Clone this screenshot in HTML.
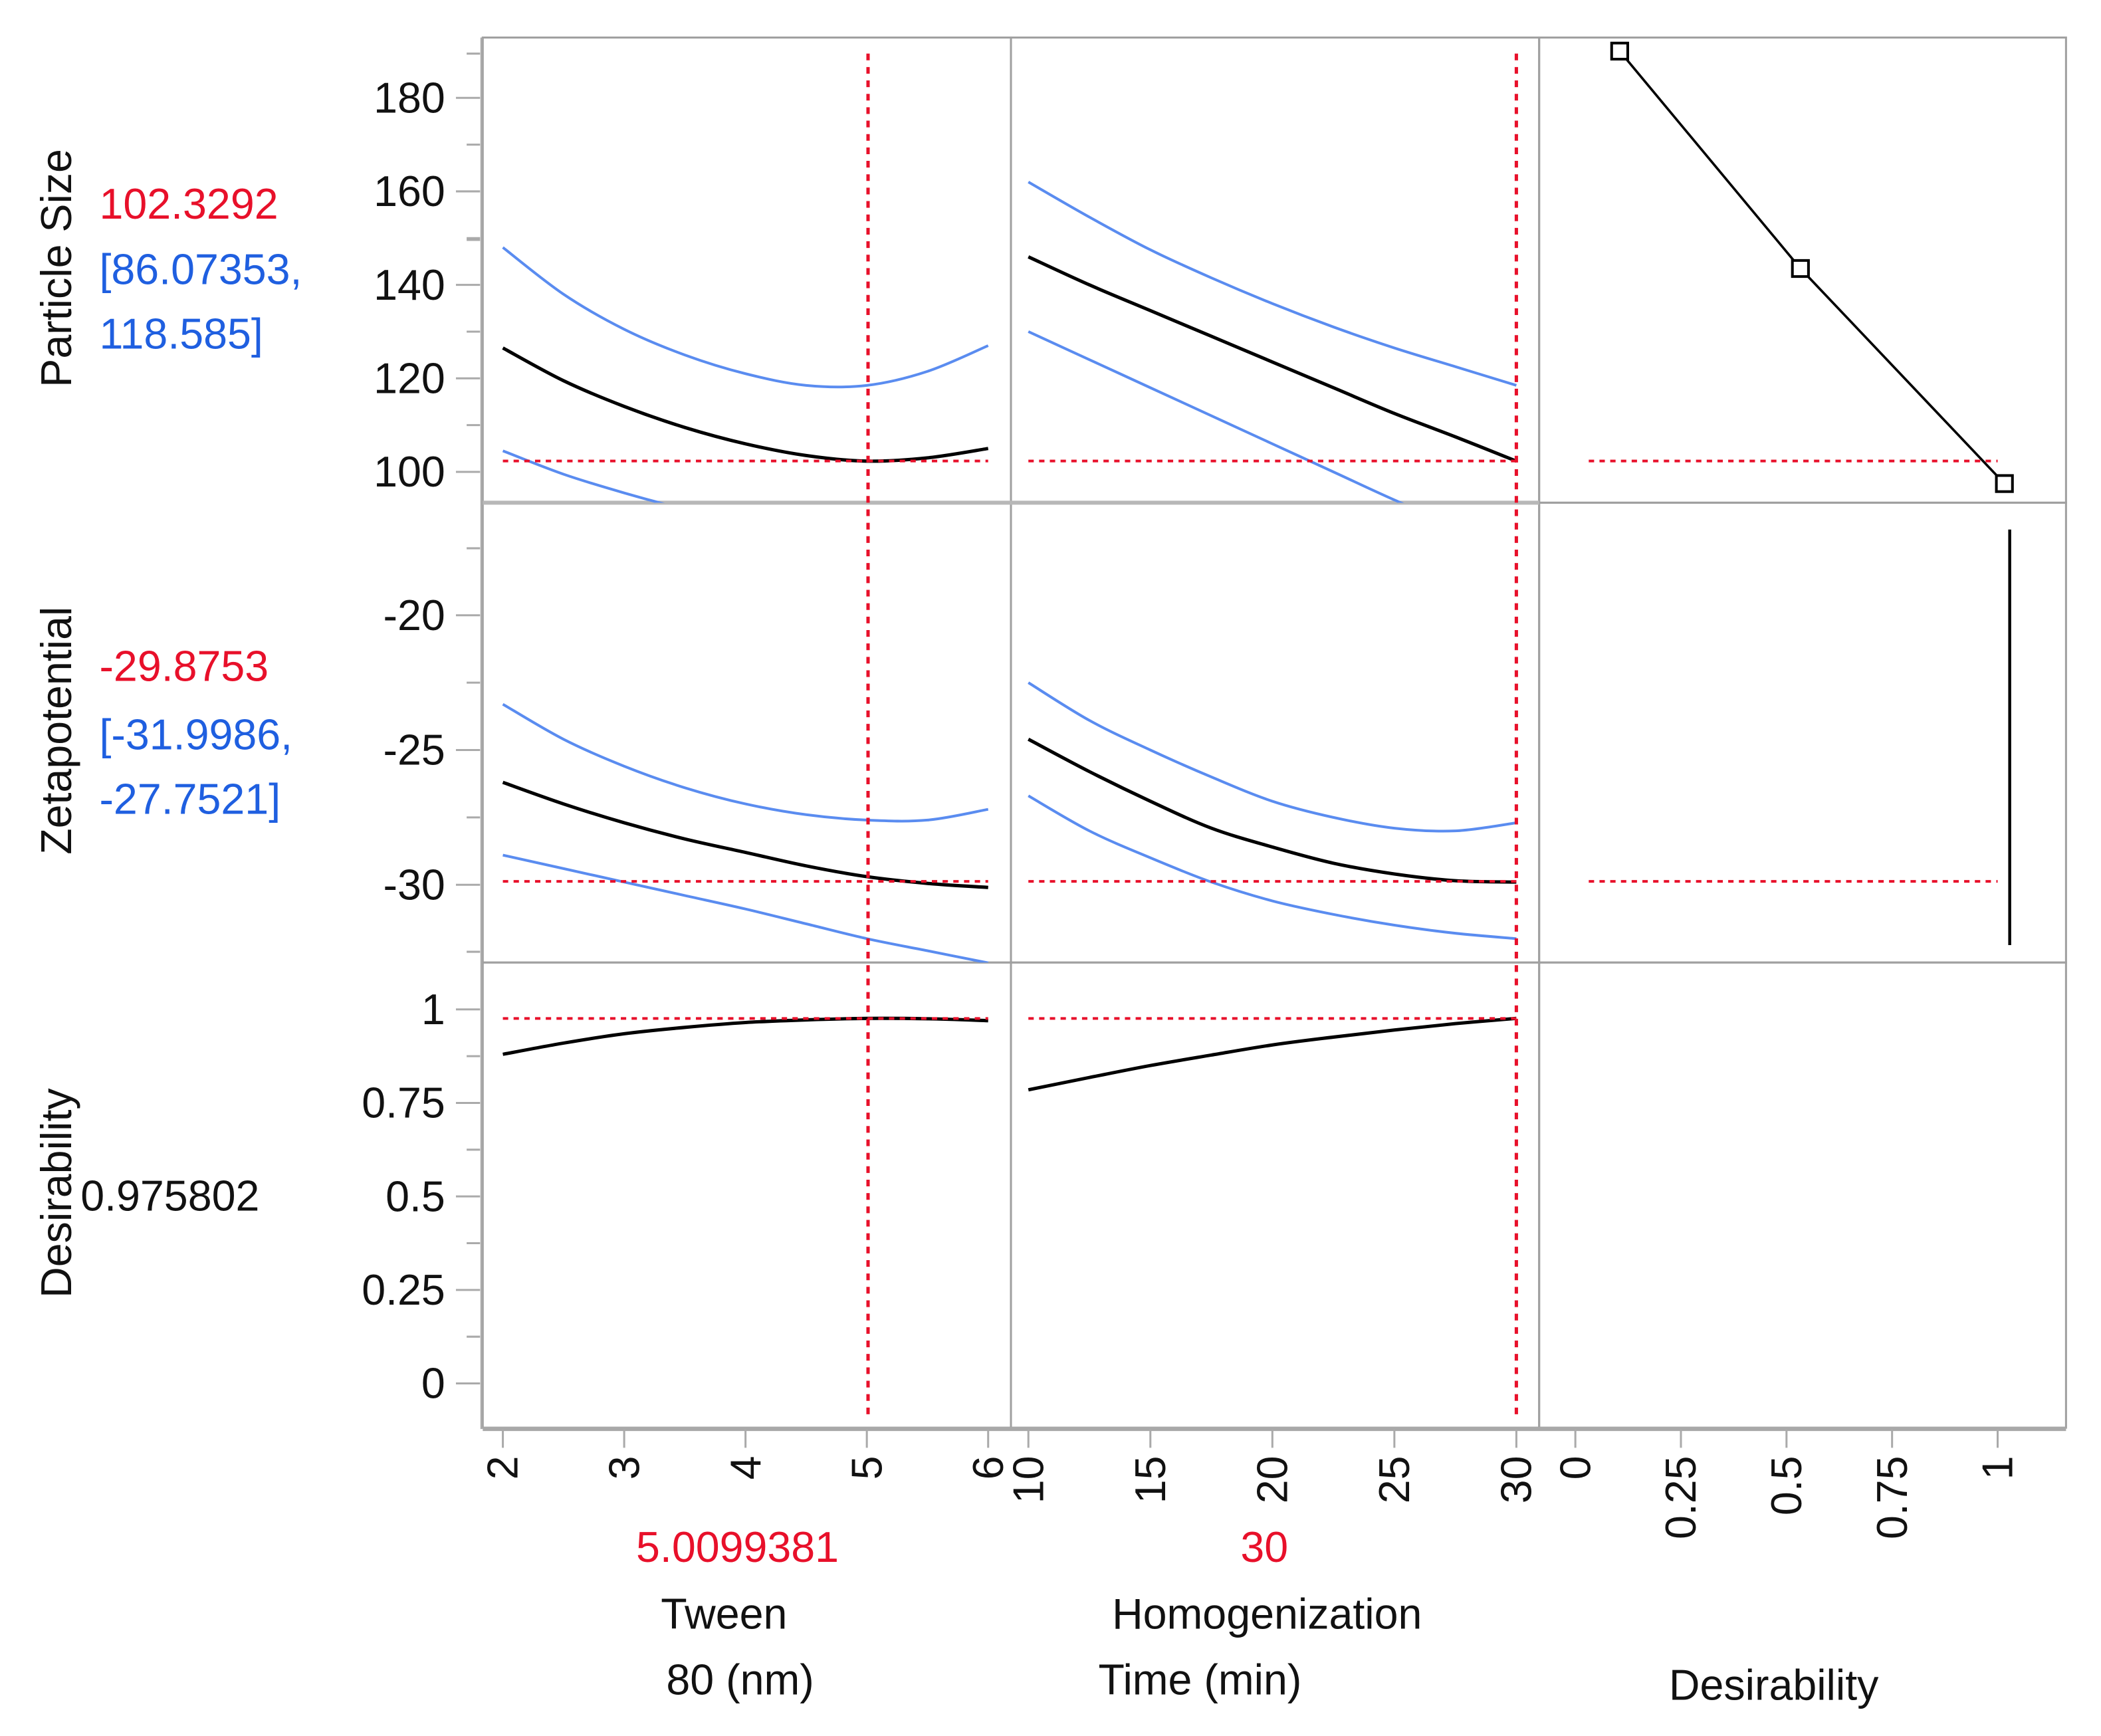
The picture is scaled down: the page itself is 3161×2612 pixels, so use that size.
<!DOCTYPE html>
<html><head><meta charset="utf-8"><style>
html,body{margin:0;padding:0;background:#fff}
svg{display:block}
text{font-family:"Liberation Sans",sans-serif}
</style></head><body>
<svg id="c" width="3161" height="2612" viewBox="0 0 1567 1295" xmlns="http://www.w3.org/2000/svg"></svg>
<script>
// ---- data ----
const tweenX = [2, 2.5, 3, 3.5, 4, 4.5, 5, 5.5, 6];
const homogX = [10, 12.5, 15, 17.5, 20, 22.5, 25, 27.5, 30];
const psTweenMean = [126.5, 119.5, 114, 109.5, 106, 103.5, 102.3, 103, 105];
const psTweenUp = [148, 138, 130.5, 125, 121, 118.5, 118.5, 121.5, 127];
const psTweenLo = [104.5, 99.5, 95.5, 92, 89, 86.5, 86, 85, 83];
const psHomMean = [146, 140, 134.5, 129, 123.5, 118, 112.5, 107.5, 102.3];
const psHomUp = [162, 154.5, 147.5, 141.5, 136, 131, 126.5, 122.5, 118.5];
const psHomLo = [130, 124, 118, 112, 106, 100, 94, 88.5, 83];
const zpTweenMean = [-26.2, -27.0, -27.7, -28.3, -28.8, -29.3, -29.7, -29.95, -30.1];
const zpTweenUp = [-23.3, -24.6, -25.6, -26.4, -27.0, -27.4, -27.6, -27.6, -27.2];
const zpTweenLo = [-28.9, -29.4, -29.9, -30.4, -30.9, -31.45, -32, -32.45, -32.9];
const zpHomMean = [-24.6, -25.8, -26.9, -27.9, -28.6, -29.2, -29.6, -29.85, -29.9];
const zpHomUp = [-22.5, -23.9, -25.0, -26.0, -26.9, -27.5, -27.9, -28.0, -27.7];
const zpHomLo = [-26.7, -28.0, -29.0, -29.9, -30.6, -31.1, -31.5, -31.8, -32.0];
const desTween = [0.88, 0.91, 0.935, 0.952, 0.965, 0.972, 0.976, 0.975, 0.97];
const desHom = [0.785, 0.818, 0.85, 0.878, 0.905, 0.926, 0.945, 0.962, 0.976];
const desFnX = [0.105, 0.533, 1.016];
const desFnY = [190, 143.5, 97.5];
const currentTween = 5.0099381, currentHom = 30;
const predPS = 102.3292, predZP = -29.8753, predDes = 0.975802;
const psTicks = [100, 120, 140, 160, 180];
const zpTicks = [-20, -25, -30];
const desTicks = [0, 0.25, 0.5, 0.75, 1];
const tweenTicks = [2, 3, 4, 5, 6];
const homTicks = [10, 15, 20, 25, 30];
const desXTicks = [0, 0.25, 0.5, 0.75, 1];
const desXLabels = ["0", "0.25", "0.5", "0.75", "1"];

const NS = "http://www.w3.org/2000/svg";
const svg = document.getElementById('c');
function el(tag, attrs, parent) {
  const e = document.createElementNS(NS, tag);
  for (const k in attrs) e.setAttribute(k, attrs[k]);
  (parent || svg).appendChild(e);
  return e;
}
function lin(d0, d1, r0, r1) { return v => r0 + (v - d0) * (r1 - r0) / (d1 - d0); }
const yPS = lin(100, 180, 352, 73);
const yZP = lin(-20, -30, 459, 660);
const yDS = lin(0, 1, 1032, 753);
const xTW = lin(2, 6, 375, 737);
const xHM = lin(10, 30, 767, 1131);
const xDF = lin(0, 1, 1175, 1490);
const cols = [[360, 754], [754, 1148], [1148, 1541]];
const rows = [[28, 375], [375, 718], [718, 1065]];

const defs = el('defs', {});
cols.forEach((c, i) => rows.forEach((r, j) => {
  const cp = el('clipPath', {id: 'cp' + i + j}, defs);
  el('rect', {x: c[0], y: r[0], width: c[1] - c[0], height: r[1] - r[0]}, cp);
}));

function curve(xs, ys, sx, sy) {
  const p = xs.map((x, i) => [sx(x), sy(ys[i])]);
  let d = 'M' + p[0][0] + ',' + p[0][1];
  for (let i = 0; i < p.length - 1; i++) {
    const p0 = p[i - 1] || p[i], p1 = p[i], p2 = p[i + 1], p3 = p[i + 2] || p2;
    const c1 = [p1[0] + (p2[0] - p0[0]) / 6, p1[1] + (p2[1] - p0[1]) / 6];
    const c2 = [p2[0] - (p3[0] - p1[0]) / 6, p2[1] - (p3[1] - p1[1]) / 6];
    d += 'C' + c1 + ' ' + c2 + ' ' + p2;
  }
  return d;
}
function drawCurve(name, xs, ys, sx, sy, color, w, clip) {
  const e = el('path', {d: curve(xs, ys, sx, sy), fill: 'none', stroke: color, 'stroke-width': w, 'clip-path': 'url(#' + clip + ')'});
  
  
}
const RED = '#e8102a', BLUE = '#5a8cf0';
function hdash(name, y, x0, x1) {
  const e = el('line', {x1: x0, x2: x1, y1: y, y2: y, stroke: RED, 'stroke-width': 2, 'stroke-dasharray': '4,4'});
  
  
}

cols.forEach((c, i) => rows.forEach((r, j) => {
  const e = el('rect', {x: c[0], y: r[0], width: c[1] - c[0], height: r[1] - r[0], fill: 'none', stroke: '#a0a0a0', 'stroke-width': 1.5});
  
  
}));
el('line', {x1: 360, x2: 1541, y1: 1066, y2: 1066, stroke: '#a8a8a8', 'stroke-width': 3});
el('line', {x1: 360, x2: 1148, y1: 375, y2: 375, stroke: '#b8b8b8', 'stroke-width': 3});

function yAxis(name, ticks, sy) {
  const g = el('g', {});
  
  
  ticks.forEach(t => {
    const y = sy(t);
    el('line', {x1: 340, x2: 358, y1: y, y2: y, stroke: '#aaa', 'stroke-width': 1.5}, g);
    const tx = el('text', {x: 332, y: y + 11, 'text-anchor': 'end', 'font-size': 32, fill: '#111'}, g);
    tx.textContent = t;
  });
  for (let i = 0; i < ticks.length - 1; i++) {
    const y = (sy(ticks[i]) + sy(ticks[i + 1])) / 2;
    el('line', {x1: 348, x2: 358, y1: y, y2: y, stroke: '#aaa', 'stroke-width': 1.5}, g);
  }
}
yAxis('particle-size-y-axis', psTicks, yPS);
yAxis('zetapotential-y-axis', zpTicks, yZP);
yAxis('desirability-y-axis', desTicks, yDS);
[40, 179].forEach(y => el('line', {x1: 348, x2: 358, y1: y, y2: y, stroke: '#aaa', 'stroke-width': 1.5}));
[409, 710].forEach(y => el('line', {x1: 348, x2: 358, y1: y, y2: y, stroke: '#aaa', 'stroke-width': 1.5}));
el('line', {x1: 359, x2: 359, y1: 28, y2: 1066, stroke: '#aaa', 'stroke-width': 1.5});

function xAxis(name, ticks, labels, sx) {
  const g = el('g', {});
  
  
  ticks.forEach((t, i) => {
    const x = sx(t);
    el('line', {x1: x, x2: x, y1: 1066, y2: 1080, stroke: '#aaa', 'stroke-width': 1.5}, g);
    const tx = el('text', {x: 0, y: 0, 'text-anchor': 'end', 'font-size': 32, fill: '#111',
      transform: 'translate(' + (x + 11) + ',1086) rotate(-90)'}, g);
    tx.textContent = labels[i];
  });
}
xAxis('tween-x-axis', tweenTicks, tweenTicks.map(String), xTW);
xAxis('homogenization-x-axis', homTicks, homTicks.map(String), xHM);
xAxis('desirability-x-axis', desXTicks, desXLabels, xDF);

drawCurve('ps-tween-upper', tweenX, psTweenUp, xTW, yPS, BLUE, 2, 'cp00');
drawCurve('ps-tween-lower', tweenX, psTweenLo, xTW, yPS, BLUE, 2, 'cp00');
drawCurve('ps-tween-mean', tweenX, psTweenMean, xTW, yPS, '#000', 2.5, 'cp00');
drawCurve('ps-hom-upper', homogX, psHomUp, xHM, yPS, BLUE, 2, 'cp10');
drawCurve('ps-hom-lower', homogX, psHomLo, xHM, yPS, BLUE, 2, 'cp10');
drawCurve('ps-hom-mean', homogX, psHomMean, xHM, yPS, '#000', 2.5, 'cp10');
drawCurve('zp-tween-upper', tweenX, zpTweenUp, xTW, yZP, BLUE, 2, 'cp01');
drawCurve('zp-tween-lower', tweenX, zpTweenLo, xTW, yZP, BLUE, 2, 'cp01');
drawCurve('zp-tween-mean', tweenX, zpTweenMean, xTW, yZP, '#000', 2.5, 'cp01');
drawCurve('zp-hom-upper', homogX, zpHomUp, xHM, yZP, BLUE, 2, 'cp11');
drawCurve('zp-hom-lower', homogX, zpHomLo, xHM, yZP, BLUE, 2, 'cp11');
drawCurve('zp-hom-mean', homogX, zpHomMean, xHM, yZP, '#000', 2.5, 'cp11');
drawCurve('des-tween', tweenX, desTween, xTW, yDS, '#000', 2.5, 'cp02');
drawCurve('des-hom', homogX, desHom, xHM, yDS, '#000', 2.5, 'cp12');

const dpts = desFnX.map((x, i) => xDF(x) + ',' + yPS(desFnY[i])).join(' ');
let e = el('polyline', {points: dpts, fill: 'none', stroke: '#000', 'stroke-width': 1.8});


desFnX.forEach((x, i) => {
  const m = el('rect', {x: xDF(x) - 6, y: yPS(desFnY[i]) - 6, width: 12, height: 12, fill: '#fff', stroke: '#000', 'stroke-width': 2});
  
  
});
e = el('line', {x1: 1499, x2: 1499, y1: 395, y2: 705, stroke: '#000', 'stroke-width': 2.2});



hdash('ps-current-line', yPS(predPS), 375, 737);
hdash('ps-current-line', yPS(predPS), 767, 1131);
hdash('ps-current-line', yPS(predPS), 1185, 1490);
hdash('zp-current-line', yZP(predZP), 375, 737);
hdash('zp-current-line', yZP(predZP), 767, 1131);
hdash('zp-current-line', yZP(predZP), 1185, 1490);
hdash('des-current-line', yDS(predDes), 375, 737);
hdash('des-current-line', yDS(predDes), 767, 1131);
[[xTW(currentTween), 'tween-current-line'], [xHM(currentHom), 'hom-current-line']].forEach(([x, n]) => {
  const l = el('line', {x1: x, x2: x, y1: 40, y2: 1055, stroke: RED, 'stroke-width': 2.5, 'stroke-dasharray': '5,5'});
  
  
});

function txt(name, s, x, y, color, size, anchor, rot) {
  const t = el('text', {x: x, y: y, fill: color, 'font-size': size, 'text-anchor': anchor || 'start'});
  if (rot) t.setAttribute('transform', 'rotate(-90 ' + x + ' ' + y + ')');
  
  
  t.textContent = s;
}
txt('particle-size-title', 'Particle Size', 53, 200, '#111', 32, 'middle', true);
txt('zetapotential-title', 'Zetapotential', 53, 545, '#111', 32, 'middle', true);
txt('desirability-title', 'Desirability', 53, 890, '#111', 32, 'middle', true);
txt('ps-prediction', predPS.toFixed(4), 74, 163, RED, 32);
txt('ps-ci-low', '[86.07353,', 74, 212, '#1f5fe0', 32);
txt('ps-ci-high', '118.585]', 74, 260, '#1f5fe0', 32);
txt('zp-prediction', predZP.toFixed(4), 74, 508, RED, 32);
txt('zp-ci-low', '[-31.9986,', 74, 559, '#1f5fe0', 32);
txt('zp-ci-high', '-27.7521]', 74, 607, '#1f5fe0', 32);
txt('des-prediction', String(predDes), 60, 903, '#111', 32);
txt('tween-current-value', String(currentTween), 550, 1165, RED, 32, 'middle');
txt('hom-current-value', String(currentHom), 943, 1165, RED, 32, 'middle');
txt('tween-x-title-1', 'Tween', 540, 1215, '#111', 32, 'middle');
txt('tween-x-title-2', '80 (nm)', 552, 1264, '#111', 32, 'middle');
txt('hom-x-title-1', 'Homogenization', 945, 1215, '#111', 32, 'middle');
txt('hom-x-title-2', 'Time (min)', 895, 1264, '#111', 32, 'middle');
txt('desirability-x-title', 'Desirability', 1323, 1268, '#111', 32, 'middle');
</script>
</body></html>
